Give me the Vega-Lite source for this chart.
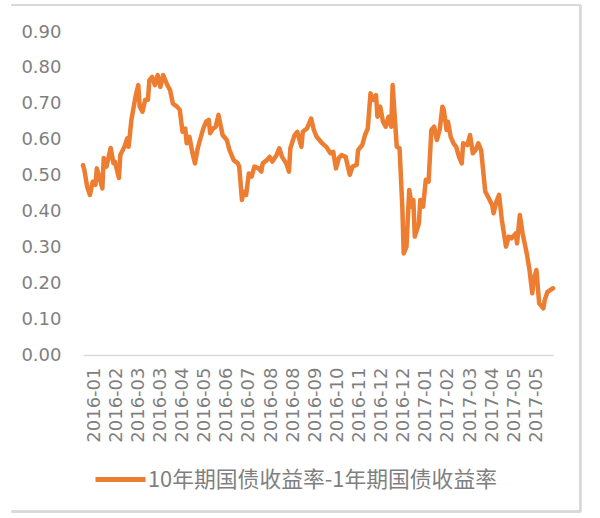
{
  "$schema": "https://vega.github.io/schema/vega-lite/v6.json",
  "width": 470,
  "height": 323,
  "autosize": {"type": "none"},
  "padding": {"left": 83, "top": 32, "right": 47, "bottom": 163},
  "background": "white",
  "config": {"view": {"stroke": null}, "font": "DejaVu Sans", "axis": {"labelOverlap": false}},
  "resolve": {"axis": {"x": "independent", "y": "independent"}},
  "data": {"values": [
    {"d":0,"v":0.529},{"d":1,"v":0.515},{"d":3,"v":0.469},{"d":5,"v":0.446},{"d":7,"v":0.483},{"d":9,"v":0.474},{"d":10,"v":0.52},{"d":12,"v":0.493},{"d":14,"v":0.464},{"d":15,"v":0.549},{"d":17,"v":0.525},{"d":20,"v":0.577},{"d":22,"v":0.535},{"d":23,"v":0.539},{"d":26,"v":0.493},{"d":27,"v":0.557},{"d":30,"v":0.58},{"d":32,"v":0.604},{"d":33,"v":0.58},{"d":35,"v":0.655},{"d":38,"v":0.72},{"d":40,"v":0.752},{"d":41,"v":0.692},{"d":43,"v":0.678},{"d":45,"v":0.711},{"d":47,"v":0.711},{"d":48,"v":0.766},{"d":50,"v":0.775},{"d":52,"v":0.752},{"d":54,"v":0.78},{"d":56,"v":0.747},{"d":58,"v":0.78},{"d":61,"v":0.752},{"d":63,"v":0.738},{"d":65,"v":0.701},{"d":68,"v":0.692},{"d":70,"v":0.683},{"d":72,"v":0.622},{"d":74,"v":0.631},{"d":75,"v":0.59},{"d":77,"v":0.608},{"d":79,"v":0.566},{"d":81,"v":0.534},{"d":83,"v":0.576},{"d":85,"v":0.604},{"d":87,"v":0.631},{"d":89,"v":0.65},{"d":91,"v":0.655},{"d":92,"v":0.618},{"d":94,"v":0.631},{"d":96,"v":0.636},{"d":98,"v":0.669},{"d":99,"v":0.65},{"d":101,"v":0.613},{"d":104,"v":0.599},{"d":106,"v":0.571},{"d":109,"v":0.543},{"d":112,"v":0.534},{"d":113,"v":0.525},{"d":115,"v":0.432},{"d":116,"v":0.455},{"d":118,"v":0.446},{"d":120,"v":0.506},{"d":122,"v":0.497},{"d":124,"v":0.525},{"d":127,"v":0.52},{"d":129,"v":0.511},{"d":130,"v":0.534},{"d":133,"v":0.543},{"d":135,"v":0.552},{"d":137,"v":0.539},{"d":140,"v":0.557},{"d":142,"v":0.576},{"d":144,"v":0.552},{"d":147,"v":0.534},{"d":149,"v":0.511},{"d":150,"v":0.576},{"d":153,"v":0.612},{"d":155,"v":0.622},{"d":158,"v":0.58},{"d":159,"v":0.622},{"d":162,"v":0.631},{"d":165,"v":0.659},{"d":167,"v":0.627},{"d":169,"v":0.608},{"d":173,"v":0.59},{"d":176,"v":0.58},{"d":179,"v":0.562},{"d":181,"v":0.566},{"d":183,"v":0.52},{"d":185,"v":0.548},{"d":187,"v":0.557},{"d":190,"v":0.552},{"d":193,"v":0.502},{"d":195,"v":0.525},{"d":198,"v":0.53},{"d":199,"v":0.571},{"d":202,"v":0.585},{"d":204,"v":0.613},{"d":206,"v":0.631},{"d":208,"v":0.729},{"d":210,"v":0.711},{"d":212,"v":0.724},{"d":213,"v":0.664},{"d":215,"v":0.692},{"d":217,"v":0.65},{"d":219,"v":0.636},{"d":221,"v":0.664},{"d":223,"v":0.636},{"d":224,"v":0.752},{"d":226,"v":0.636},{"d":227,"v":0.58},{"d":229,"v":0.576},{"d":231,"v":0.413},{"d":232,"v":0.283},{"d":234,"v":0.302},{"d":236,"v":0.46},{"d":238,"v":0.413},{"d":239,"v":0.432},{"d":240,"v":0.33},{"d":243,"v":0.367},{"d":244,"v":0.432},{"d":246,"v":0.413},{"d":248,"v":0.488},{"d":250,"v":0.483},{"d":252,"v":0.627},{"d":254,"v":0.636},{"d":256,"v":0.599},{"d":258,"v":0.627},{"d":260,"v":0.692},{"d":261,"v":0.683},{"d":263,"v":0.627},{"d":264,"v":0.65},{"d":266,"v":0.608},{"d":268,"v":0.59},{"d":270,"v":0.58},{"d":272,"v":0.552},{"d":274,"v":0.534},{"d":275,"v":0.59},{"d":278,"v":0.585},{"d":280,"v":0.613},{"d":282,"v":0.562},{"d":284,"v":0.571},{"d":286,"v":0.59},{"d":288,"v":0.571},{"d":291,"v":0.455},{"d":293,"v":0.441},{"d":296,"v":0.418},{"d":297,"v":0.395},{"d":299,"v":0.427},{"d":301,"v":0.446},{"d":303,"v":0.376},{"d":306,"v":0.302},{"d":308,"v":0.33},{"d":310,"v":0.325},{"d":313,"v":0.339},{"d":314,"v":0.311},{"d":316,"v":0.39},{"d":318,"v":0.339},{"d":320,"v":0.302},{"d":321,"v":0.283},{"d":323,"v":0.237},{"d":325,"v":0.172},{"d":326,"v":0.209},{"d":328,"v":0.237},{"d":330,"v":0.144},{"d":333,"v":0.13},{"d":334,"v":0.153},{"d":336,"v":0.176},{"d":340,"v":0.186}
  ]},
  "layer": [
    {
      "mark": {"type": "line", "strokeWidth": 4.5, "strokeJoin": "round", "strokeCap": "round"},
      "encoding": {
        "x": {
          "field": "d", "type": "quantitative",
          "scale": {"domain": [0, 340], "nice": false, "zero": false},
          "axis": {
            "values": [8,24,40,56,72,88,104,120,136,152,168,184,200,216,232,248,264,280,296,312,328],
            "labelExpr": "['2016-01','2016-02','2016-03','2016-03','2016-04','2016-05','2016-06','2016-07','2016-08','2016-08','2016-09','2016-10','2016-11','2016-12','2016-12','2017-01','2017-02','2017-03','2017-04','2017-05','2017-05'][round((datum.value-8)/16)]",
            "labelAngle": -90, "labelFontSize": 18, "labelColor": "#7f7f7f", "labelFont": "DejaVu Sans",
            "labelPadding": 12, "ticks": false, "domainColor": "#d9d9d9", "domainWidth": 1.5,
            "grid": false, "title": null, "labelOverlap": false, "labelBound": false, "labelFlush": false
          }
        },
        "y": {
          "field": "v", "type": "quantitative",
          "scale": {"domain": [0, 0.9], "nice": false},
          "axis": {
            "values": [0,0.1,0.2,0.3,0.4,0.5,0.6,0.7,0.8,0.9],
            "format": ".2f", "labelFontSize": 18, "labelColor": "#7f7f7f", "labelFont": "DejaVu Sans",
            "domain": false, "ticks": false, "grid": false, "labelPadding": 22, "title": null,
            "labelOverlap": false, "labelFlush": false
          }
        },
        "color": {
          "datum": "10年期国债收益率-1年期国债收益率", "type": "nominal",
          "scale": {"range": ["#ED7D31"]},
          "legend": {
            "title": null, "orient": "none", "legendX": 10, "legendY": 420,
            "symbolType": "stroke", "symbolSize": 2500, "symbolStrokeWidth": 5,
            "labelFont": "Noto Sans CJK SC", "labelFontSize": 21.8, "labelColor": "#7f7f7f",
            "labelLimit": 500, "padding": 0, "labelOffset": 0
          }
        }
      }
    },
    {
      "mark": {"type": "rule", "color": "#d9d9d9", "strokeWidth": 2, "clip": false},
      "encoding": {
        "y": {"datum": 0.975, "type": "quantitative", "axis": null},
        "x": {"datum": -51.4, "type": "quantitative", "axis": null},
        "x2": {"datum": 359.6}
      }
    },
    {
      "mark": {"type": "rule", "color": "#d9d9d9", "strokeWidth": 2, "clip": false},
      "encoding": {
        "x": {"datum": 359.6, "type": "quantitative", "axis": null},
        "y": {"datum": 0.975, "type": "quantitative", "axis": null},
        "y2": {"datum": -0.437}
      }
    },
    {
      "mark": {"type": "rule", "color": "#d9d9d9", "strokeWidth": 2, "clip": false},
      "encoding": {
        "y": {"datum": -0.437, "type": "quantitative", "axis": null},
        "x": {"datum": -51.4, "type": "quantitative", "axis": null},
        "x2": {"datum": 359.6}
      }
    }
  ]
}
